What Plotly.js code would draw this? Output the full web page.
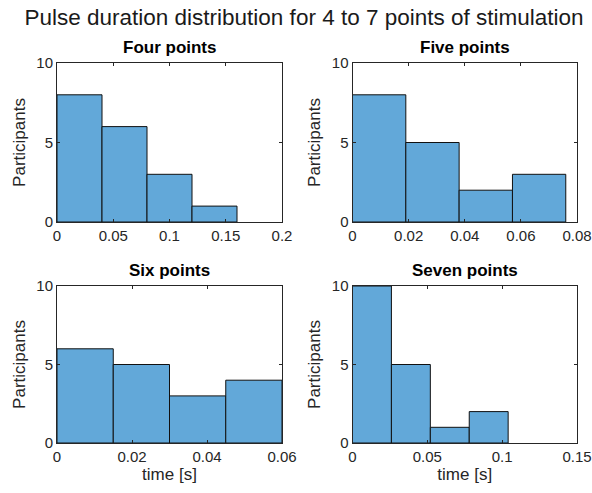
<!DOCTYPE html>
<html><head><meta charset="utf-8">
<script src="https://cdn.plot.ly/plotly-3.0.1.min.js"></script>
<style>body{margin:0;padding:0;background:#fff}#chart{width:592px;height:493px}</style>
</head><body><div id="chart"></div>
<script>
const titles = ["Four points", "Five points", "Six points", "Seven points"];
const edgesFour = [0, 0.04, 0.08, 0.12, 0.16];
const countsFour = [8, 6, 3, 1];
const edgesFive = [0, 0.019, 0.038, 0.057, 0.076];
const countsFive = [8, 5, 2, 3];
const edgesSix = [0, 0.015, 0.03, 0.045, 0.06];
const countsSix = [6, 5, 3, 4];
const edgesSeven = [0, 0.026, 0.052, 0.078, 0.104];
const countsSeven = [10, 5, 1, 2];
const xRanges = [[0, 0.2], [0, 0.08], [0, 0.06], [0, 0.15]];
const xDticks = [0.05, 0.02, 0.02, 0.05];
const yTicks = [0, 5, 10];

const edgesAll = [edgesFour, edgesFive, edgesSix, edgesSeven];
const countsAll = [countsFour, countsFive, countsSix, countsSeven];

const W = 592, H = 493;
const xDom = [[57/W, 282/W], [352.5/W, 577/W], [57/W, 282/W], [352.5/W, 577/W]];
const yDom = [[(H-222)/H, (H-63)/H], [(H-222)/H, (H-63)/H], [(H-443)/H, (H-286)/H], [(H-443)/H, (H-286)/H]];

const axColor = '#262626';
const fnt = 'Liberation Sans, Arial, sans-serif';
const traces = [];
const layout = {
  width: W, height: H,
  margin: {l: 0, r: 0, t: 0, b: 0},
  paper_bgcolor: '#fff', plot_bgcolor: '#fff',
  showlegend: false,
  font: {family: fnt, color: axColor, size: 15},
  title: {text: 'Pulse duration distribution for 4 to 7 points of stimulation',
          x: 304/W, xanchor: 'center', y: 1 - 17/H, yanchor: 'middle',
          font: {family: fnt, size: 22.5, color: '#1a1a1a'}},
  annotations: []
};

for (let i = 0; i < 4; i++) {
  const e = edgesAll[i], c = countsAll[i];
  const lefts = e.slice(0, -1);
  const widths = lefts.map((v, k) => e[k+1] - v);
  const sfx = i === 0 ? '' : String(i+1);
  traces.push({
    type: 'bar', x: lefts, y: c, width: widths, offset: 0,
    xaxis: 'x' + sfx, yaxis: 'y' + sfx,
    marker: {color: '#62a8d9', line: {color: '#111', width: 1}},
    hoverinfo: 'x+y'
  });
  const common = {
    showline: true, mirror: 'ticks', linecolor: axColor, linewidth: 1,
    ticks: 'inside', ticklen: 3, tickcolor: axColor, tickwidth: 1,
    showgrid: false, zeroline: false,
    tickfont: {family: fnt, size: 15, color: axColor}
  };
  layout['xaxis' + sfx] = Object.assign({}, common, {
    domain: xDom[i], range: xRanges[i], dtick: xDticks[i], tick0: 0,
    anchor: 'y' + sfx,
    title: i >= 2 ? {text: 'time [s]', font: {family: fnt, size: 17, color: axColor}, standoff: 2} : {text: ''}
  });
  layout['yaxis' + sfx] = Object.assign({}, common, {
    domain: yDom[i], range: [0, 10], tickvals: yTicks,
    anchor: 'x' + sfx,
    title: {text: 'Participants', font: {family: fnt, size: 17, color: axColor}, standoff: 6}
  });
  layout.annotations.push({
    text: '<b>' + titles[i] + '</b>', showarrow: false,
    xref: 'paper', yref: 'paper', xanchor: 'center', yanchor: 'middle',
    x: (xDom[i][0] + xDom[i][1]) / 2, y: yDom[i][1] + 16/H,
    font: {family: fnt, size: 17, color: '#000'}
  });
}

Plotly.newPlot('chart', traces, layout, {displayModeBar: false, staticPlot: true});
</script></body></html>
